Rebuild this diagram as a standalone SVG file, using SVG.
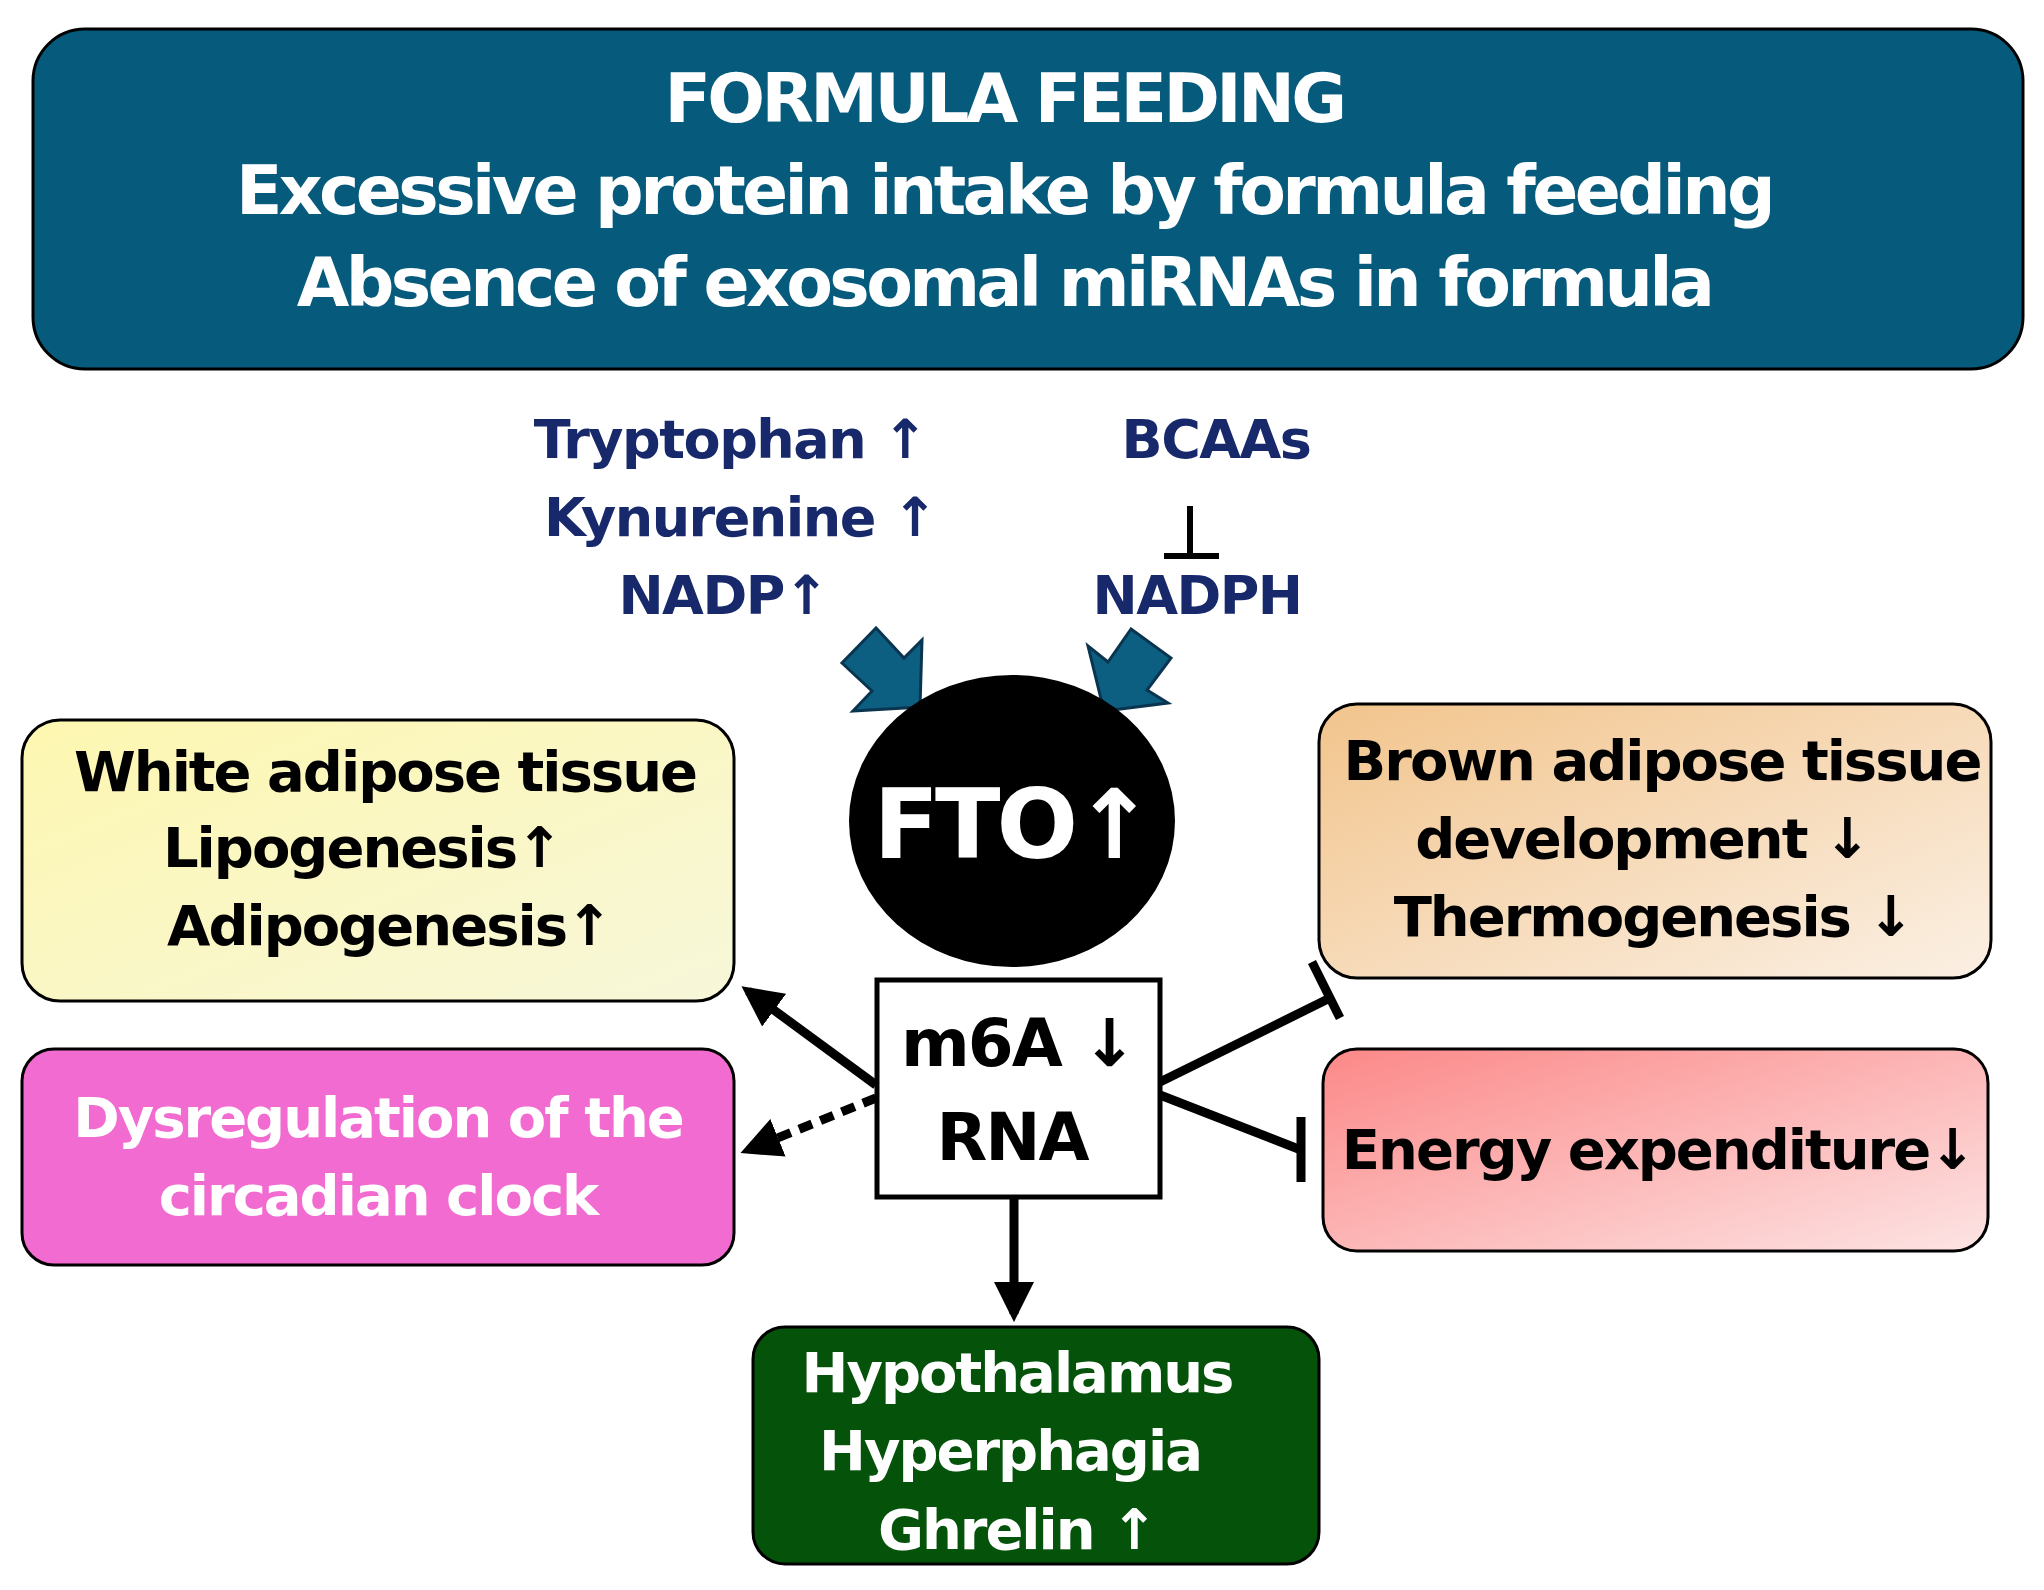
<svg xmlns="http://www.w3.org/2000/svg" width="2044" height="1590" viewBox="0 0 2044 1590">
<style>
text{font-family:"DejaVu Sans","Liberation Sans",sans-serif;font-weight:bold;text-anchor:middle}
.w{fill:#fff}.k{fill:#000}.b{fill:#17296b;font-size:54px;letter-spacing:-1.5px}
.t{font-size:56px;letter-spacing:-2px}
.h{font-size:68px;letter-spacing:-3.6px}
.ln{stroke:#000;stroke-width:9;fill:none}
.ar{fill:#0d5f82;stroke:#0a3550;stroke-width:3;stroke-linejoin:miter}
</style>
<defs>
<linearGradient id="gy" x1="0" y1="0" x2="1" y2="1"><stop offset="0" stop-color="#fdf7b0"/><stop offset="1" stop-color="#f7f7da"/></linearGradient>
<linearGradient id="gb" x1="0" y1="0" x2="1" y2="1"><stop offset="0" stop-color="#f2c48c"/><stop offset="1" stop-color="#fbf0e4"/></linearGradient>
<linearGradient id="gr" x1="0" y1="0" x2="1" y2="1"><stop offset="0" stop-color="#fc8888"/><stop offset="1" stop-color="#fde4e4"/></linearGradient>
<marker id="ah" viewBox="0 0 10 10" refX="8" refY="5" markerWidth="4.5" markerHeight="4.5" orient="auto"><path d="M0,0L10,5L0,10z" fill="#000"/></marker>
</defs>
<g id="top"><rect x="33" y="29" width="1990" height="340" rx="52" fill="#065a7c" stroke="#000" stroke-width="3"/>
<text class="w h" x="1004" y="122">FORMULA FEEDING</text>
<text class="w h" x="1004" y="214">Excessive protein intake by formula feeding</text>
<text class="w h" x="1004" y="306">Absence of exosomal miRNAs in formula</text></g>
<g id="inputs">
<text class="b" x="730" y="458">Tryptophan ↑</text>
<text class="b" x="740" y="536">Kynurenine ↑</text>
<text class="b" x="723" y="614">NADP↑</text>
<text class="b" x="1216" y="458">BCAAs</text>
<text class="b" x="1197" y="614">NADPH</text>
<path d="M1190,506V554M1164,556H1219" stroke="#000" stroke-width="6"/>
<polygon class="ar" points="876,628 842,663 872,691 853,711 920,707 922,640 904,658"/>
<polygon class="ar" points="1131,629 1171,658 1147,690 1168,703 1104,711 1088,646 1108,662"/>
</g>
<g id="fto"><ellipse cx="1012" cy="821" rx="163" ry="146" fill="#000"/>
<text class="w" x="1012" y="858" font-size="96" letter-spacing="-4">FTO↑</text></g>
<g id="m6a"><rect x="877" y="980" width="283" height="217" fill="#fff" stroke="#000" stroke-width="5"/>
<text class="k" x="1018" y="1066" font-size="66" letter-spacing="-2">m6A ↓</text>
<text class="k" x="1012" y="1160" font-size="66" letter-spacing="-2">RNA</text></g>
<g id="white"><rect x="22" y="720" width="712" height="281" rx="38" fill="url(#gy)" stroke="#000" stroke-width="3"/>
<text class="k t" x="385" y="791">White adipose tissue</text>
<text class="k t" x="362" y="867">Lipogenesis↑</text>
<text class="k t" x="389" y="945">Adipogenesis↑</text></g>
<g id="circ"><rect x="22" y="1049" width="712" height="216" rx="32" fill="#f26bd0" stroke="#000" stroke-width="3"/>
<text class="w t" x="378" y="1137">Dysregulation of the</text>
<text class="w t" x="378" y="1215">circadian clock</text></g>
<g id="brown"><rect x="1319" y="704" width="672" height="274" rx="38" fill="url(#gb)" stroke="#000" stroke-width="3"/>
<text class="k t" x="1662" y="780">Brown adipose tissue</text>
<text class="k t" x="1642" y="858">development ↓</text>
<text class="k t" x="1653" y="936">Thermogenesis ↓</text></g>
<g id="energy"><rect x="1323" y="1049" width="665" height="202" rx="34" fill="url(#gr)" stroke="#000" stroke-width="3"/>
<text class="k t" x="1658" y="1169">Energy expenditure↓</text></g>
<g id="hypo"><rect x="753" y="1327" width="566" height="237" rx="32" fill="#05520a" stroke="#000" stroke-width="3"/>
<text class="w t" x="1017" y="1392">Hypothalamus</text>
<text class="w t" x="1010" y="1470">Hyperphagia</text>
<text class="w t" x="1017" y="1549">Ghrelin ↑</text></g>
<g id="connectors">
<line class="ln" x1="876" y1="1085" x2="748" y2="991" marker-end="url(#ah)"/>
<line class="ln" x1="876" y1="1098" x2="748" y2="1150" stroke-dasharray="14,9" marker-end="url(#ah)"/>
<line class="ln" x1="1160" y1="1082" x2="1330" y2="998"/>
<line class="ln" x1="1312" y1="962" x2="1340" y2="1018"/>
<line class="ln" x1="1160" y1="1095" x2="1301" y2="1150"/>
<line class="ln" x1="1301" y1="1117" x2="1301" y2="1182"/>
<line class="ln" x1="1014" y1="1197" x2="1014" y2="1314" marker-end="url(#ah)"/>
</g>
</svg>
